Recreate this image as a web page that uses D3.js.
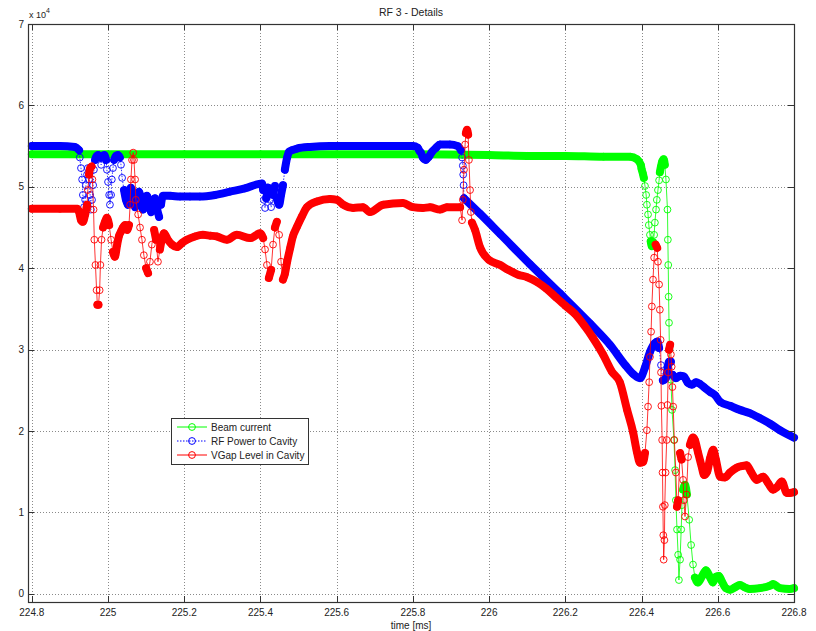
<!DOCTYPE html>
<html>
<head>
<meta charset="utf-8">
<script src="https://cdn.jsdelivr.net/npm/d3@7"></script>
<style>
  body { margin: 0; background: #fff; }
  svg text { font-family: "Liberation Sans", Arial, sans-serif; fill: #222; }
</style>
</head>
<body>
<svg id="chart" width="816" height="631"></svg>
<script>
// tick values
const xTicks = [224.8, 225, 225.2, 225.4, 225.6, 225.8, 226, 226.2, 226.4, 226.6, 226.8];
const yTicks = [0, 10000, 20000, 30000, 40000, 50000, 60000, 70000];

const seriesNames = ["Beam current", "RF Power to Cavity", "VGap Level in Cavity"];

// [time ms, value]
const beamCurrent = [
  [224.800, 54000], [224.900, 54000], [225.000, 54000], [225.200, 54000], [225.400, 54000],
  [225.600, 54000], [225.800, 54000], [226.000, 53900], [226.100, 53800], [226.200, 53800],
  [226.300, 53700], [226.370, 53700], [226.388, 53400], [226.398, 52700], [226.400, 52200],
  [226.403, 51700], [226.406, 51100], [226.409, 50100], [226.412, 49000], [226.414, 47800],
  [226.417, 46600], [226.419, 45300], [226.422, 44100], [226.424, 43300], [226.427, 42700],
  [226.430, 43200], [226.433, 44100], [226.435, 45600], [226.438, 47200], [226.440, 48400],
  [226.443, 49600], [226.446, 50800], [226.448, 51800], [226.451, 52500], [226.454, 53100],
  [226.458, 53400], [226.461, 52700], [226.464, 50900], [226.468, 47200], [226.469, 43500],
  [226.470, 40400], [226.471, 36500], [226.472, 33300], [226.473, 30000], [226.477, 26300],
  [226.480, 22600], [226.485, 18900], [226.488, 15200], [226.490, 11500], [226.493, 7900],
  [226.496, 4800], [226.498, 1700], [226.501, 4200], [226.504, 7900], [226.506, 10900],
  [226.509, 12800], [226.514, 13400], [226.519, 12200], [226.525, 9100], [226.530, 6000],
  [226.535, 3600], [226.540, 2000], [226.548, 1400], [226.559, 2200], [226.569, 2900],
  [226.580, 2000], [226.587, 1400], [226.595, 2100], [226.603, 2200], [226.611, 1500],
  [226.621, 700], [226.632, 500], [226.645, 800], [226.658, 1100], [226.671, 800],
  [226.684, 600], [226.710, 700], [226.737, 1000], [226.745, 1200], [226.763, 700],
  [226.789, 600], [226.800, 700]
];

const rfPower = [
  [224.800, 55000], [224.874, 55000], [224.913, 54900], [224.924, 54500], [224.926, 53600],
  [224.929, 52300], [224.932, 50900], [224.934, 49000], [224.937, 47500], [224.940, 48400],
  [224.942, 50200], [224.945, 51500], [224.947, 52300], [224.950, 50900], [224.953, 49000],
  [224.955, 47200], [224.958, 48400], [224.961, 50200], [224.963, 52100], [224.966, 53300],
  [224.969, 53700], [224.974, 53900], [224.979, 53600], [224.982, 52700], [224.984, 53700],
  [224.990, 53900], [224.995, 53300], [224.997, 52100], [225.000, 50600], [225.003, 49000],
  [225.005, 47800], [225.008, 49000], [225.010, 50900], [225.013, 52300], [225.016, 53300],
  [225.021, 53800], [225.026, 53900], [225.031, 53600], [225.034, 52700], [225.037, 51100],
  [225.042, 49600], [225.047, 48400], [225.052, 47800], [225.055, 49000], [225.060, 49900],
  [225.066, 48400], [225.071, 47500], [225.076, 49000], [225.081, 49400], [225.087, 48400],
  [225.092, 47200], [225.097, 48000], [225.102, 48900], [225.108, 47800], [225.113, 46900],
  [225.118, 48400], [225.123, 48600], [225.129, 47200], [225.134, 46300], [225.139, 47800],
  [225.144, 48900], [225.163, 48900], [225.189, 48800], [225.215, 48800], [225.241, 48800],
  [225.281, 49000], [225.320, 49400], [225.359, 49800], [225.404, 50400], [225.407, 49600],
  [225.409, 48400], [225.412, 47400], [225.415, 48600], [225.420, 49900], [225.425, 48400],
  [225.428, 47500], [225.433, 49000], [225.438, 50100], [225.443, 48600], [225.449, 47800],
  [225.454, 49000], [225.459, 50200], [225.464, 52100], [225.470, 53600], [225.475, 54300],
  [225.483, 54500], [225.496, 54700], [225.530, 54900], [225.582, 55000], [225.661, 55000],
  [225.766, 55000], [225.800, 55000], [225.813, 54800], [225.817, 54400], [225.821, 54200],
  [225.826, 53600], [225.830, 53400], [225.834, 53300], [225.838, 53500], [225.842, 53700],
  [225.850, 54300], [225.861, 54800], [225.871, 55200], [225.897, 55200], [225.918, 55000],
  [225.926, 54500], [225.929, 53600], [225.931, 52600], [225.932, 51500], [225.933, 50200],
  [225.934, 48600], [225.976, 46700], [226.029, 44200], [226.107, 40500], [226.186, 36900],
  [226.265, 33200], [226.317, 30600], [226.359, 28000], [226.378, 27000], [226.396, 26500],
  [226.409, 27800], [226.422, 29700], [226.435, 30800], [226.441, 31000], [226.446, 30200],
  [226.451, 28100], [226.456, 26200], [226.464, 26500], [226.472, 28500], [226.477, 28500],
  [226.482, 26900], [226.490, 26500], [226.501, 26800], [226.511, 26700], [226.522, 25900],
  [226.532, 25700], [226.543, 26000], [226.553, 25800], [226.566, 25300], [226.580, 24800],
  [226.593, 24400], [226.606, 23600], [226.632, 23100], [226.658, 22600], [226.684, 22200],
  [226.710, 21600], [226.737, 20900], [226.763, 20100], [226.800, 19200]
];

const vgapLevel = [
  [224.800, 47300], [224.874, 47300], [224.919, 47300], [224.924, 46900], [224.929, 45900],
  [224.934, 45700], [224.940, 46600], [224.945, 47800], [224.947, 49600], [224.950, 51500],
  [224.953, 52300], [224.957, 52500], [224.959, 50900], [224.962, 47200], [224.964, 43500],
  [224.967, 40400], [224.970, 37300], [224.972, 35500], [224.975, 35500], [224.978, 37300],
  [224.980, 40400], [224.983, 43500], [224.987, 45000], [224.992, 45700], [224.997, 46200],
  [225.003, 45300], [225.008, 43500], [225.013, 42000], [225.018, 41400], [225.024, 42900],
  [225.029, 44000], [225.034, 44500], [225.039, 45000], [225.045, 45300], [225.050, 44700],
  [225.055, 45300], [225.058, 47800], [225.060, 50900], [225.063, 53300], [225.066, 54200],
  [225.068, 53300], [225.071, 50900], [225.073, 48400], [225.079, 46600], [225.084, 45000],
  [225.089, 43500], [225.094, 41600], [225.100, 40000], [225.105, 39400], [225.110, 40800],
  [225.115, 42900], [225.121, 44700], [225.126, 43500], [225.131, 40800], [225.136, 42300],
  [225.142, 43700], [225.147, 44300], [225.157, 43500], [225.168, 42900], [225.181, 42600],
  [225.194, 43100], [225.207, 43500], [225.228, 43900], [225.249, 44100], [225.268, 44000],
  [225.286, 43900], [225.312, 43500], [225.338, 44100], [225.373, 43700], [225.399, 44300],
  [225.407, 43700], [225.412, 42300], [225.417, 40400], [225.422, 38800], [225.428, 39800],
  [225.433, 42900], [225.438, 45000], [225.443, 45700], [225.449, 44100], [225.454, 40800],
  [225.459, 38600], [225.464, 39300], [225.470, 40800], [225.478, 42500], [225.485, 43900],
  [225.496, 45100], [225.509, 46400], [225.522, 47500], [225.548, 48200], [225.582, 48500],
  [225.601, 48400], [225.617, 47800], [225.643, 47400], [225.669, 47500], [225.687, 46900],
  [225.722, 47800], [225.774, 48000], [225.800, 47500], [225.826, 47400], [225.845, 47500],
  [225.871, 47200], [225.889, 47500], [225.924, 47500], [225.929, 45900], [225.931, 48400],
  [225.934, 52100], [225.937, 55200], [225.939, 56600], [225.942, 57000], [225.945, 56400],
  [225.947, 53300], [225.950, 49600], [225.952, 46900], [225.955, 45600], [225.963, 44700],
  [225.976, 42600], [226.000, 41000], [226.029, 40400], [226.050, 39800], [226.076, 39200],
  [226.100, 38900], [226.126, 38300], [226.150, 37500], [226.176, 36400], [226.200, 35400],
  [226.225, 34400], [226.249, 33000], [226.273, 31400], [226.299, 29400], [226.322, 27300],
  [226.343, 26000], [226.362, 22600], [226.378, 19800], [226.388, 17400], [226.396, 16100],
  [226.404, 16200], [226.409, 17300], [226.414, 20100], [226.417, 23000], [226.420, 26000],
  [226.422, 29100], [226.425, 32200], [226.427, 35300], [226.430, 38600], [226.433, 41300],
  [226.437, 42900], [226.441, 42500], [226.443, 40800], [226.446, 38000], [226.448, 34900],
  [226.450, 31200], [226.451, 27200], [226.452, 23100], [226.454, 18900], [226.455, 14900],
  [226.456, 10700], [226.457, 7200], [226.458, 4200], [226.460, 6600], [226.461, 10900],
  [226.463, 14900], [226.466, 18900], [226.468, 23200], [226.470, 27200], [226.472, 30000],
  [226.475, 30600], [226.477, 29400], [226.479, 27900], [226.481, 25400], [226.483, 23000],
  [226.486, 18900], [226.490, 14900], [226.493, 10700], [226.496, 11500], [226.501, 17300],
  [226.505, 16500], [226.509, 14000], [226.511, 11500], [226.514, 9500], [226.518, 12200],
  [226.522, 16800], [226.527, 18300], [226.535, 19200], [226.540, 18900], [226.548, 17400],
  [226.558, 15600], [226.564, 14600], [226.572, 15000], [226.580, 16700], [226.588, 17700],
  [226.595, 16500], [226.606, 14400], [226.619, 14300], [226.632, 14900], [226.650, 15500],
  [226.664, 15700], [226.676, 15800], [226.687, 15000], [226.702, 14000], [226.719, 14400],
  [226.732, 13600], [226.745, 12800], [226.755, 13100], [226.768, 13800], [226.781, 12400],
  [226.789, 12400], [226.800, 12500]
];

let legend = {
  "Beam current": {"colour": "#00ff00", "dash": null},
  "RF Power to Cavity": {"colour": "#0000ff", "dash": "1.5,1.5"},
  "VGap Level in Cavity": {"colour": "#ff0000", "dash": null}
};

let svg = d3.select("#chart");
let width = 816, height = 631;
let box = {"left": 28, "right": 794, "top": 24, "bottom": 602};

let x = d3.scaleLinear().domain([224.79, 226.8]).range([box.left, box.right]);
let y = d3.scaleLinear().domain([-1000, 70000]).range([box.bottom, box.top]);

svg.append("rect").attr("width", width).attr("height", height).attr("fill", "#fff");

// grid
let grid = svg.append("g").attr("class", "grid")
  .attr("stroke", "#8a8a8a").attr("stroke-width", 1).attr("stroke-dasharray", "1,2");
grid.selectAll("line.gx").data(xTicks).join("line").attr("class", "gx")
  .attr("x1", d => Math.round(x(d)) + 0.5).attr("x2", d => Math.round(x(d)) + 0.5)
  .attr("y1", box.top).attr("y2", box.bottom);
grid.selectAll("line.gy").data(yTicks).join("line").attr("class", "gy")
  .attr("y1", d => Math.round(y(d)) + 0.5).attr("y2", d => Math.round(y(d)) + 0.5)
  .attr("x1", box.left).attr("x2", box.right);

// series
let plot = svg.append("g").attr("class", "main");
let line = d3.line();
let band = d3.line().curve(d3.curveMonotoneX);

function drawSeries(g, data, name){
  let colour = legend[name].colour;
  let pts = data.map(d => [x(d[0]), y(d[1])]);

  // runs of closely packed samples merge into a solid band of markers
  let runs = [], run = null;
  for (let i = 1; i < pts.length; i++){
    let dx = Math.abs(pts[i][0] - pts[i-1][0]);
    let dy = Math.abs(pts[i][1] - pts[i-1][1]);
    if (dy <= 5 * dx + 1.5){
      if (!run){ run = [pts[i-1]]; runs.push(run); }
      run.push(pts[i]);
    } else {
      run = null;
    }
  }

  g.append("g").selectAll("path").data(runs).join("path")
    .attr("d", band)
    .attr("fill", "none")
    .attr("stroke", colour)
    .attr("stroke-width", 8)
    .attr("stroke-linecap", "round")
    .attr("stroke-linejoin", "round");

  g.append("path").datum(pts)
    .attr("d", line)
    .attr("fill", "none")
    .attr("stroke", colour)
    .attr("stroke-width", 0.8)
    .attr("stroke-dasharray", legend[name].dash);

  g.append("g").selectAll("circle").data(pts).join("circle")
    .attr("cx", d => d[0]).attr("cy", d => d[1]).attr("r", 3.4)
    .attr("fill", "none").attr("stroke", colour).attr("stroke-width", 0.9);
}

drawSeries(plot.append("g"), beamCurrent, seriesNames[0]);
drawSeries(plot.append("g"), rfPower, seriesNames[1]);
drawSeries(plot.append("g"), vgapLevel, seriesNames[2]);

// box and ticks
let axes = svg.append("g").attr("class", "axes").attr("stroke", "#333").attr("fill", "none");
axes.append("rect")
  .attr("x", box.left + 0.5).attr("y", box.top + 0.5)
  .attr("width", box.right - box.left).attr("height", box.bottom - box.top)
  .attr("stroke-width", 1.2);
xTicks.forEach(function(t){
  let px = Math.round(x(t)) + 0.5;
  axes.append("line").attr("x1", px).attr("x2", px).attr("y1", box.bottom).attr("y2", box.bottom - 6);
  axes.append("line").attr("x1", px).attr("x2", px).attr("y1", box.top).attr("y2", box.top + 6);
});
yTicks.forEach(function(v){
  let py = Math.round(y(v)) + 0.5;
  axes.append("line").attr("y1", py).attr("y2", py).attr("x1", box.left).attr("x2", box.left + 6);
  axes.append("line").attr("y1", py).attr("y2", py).attr("x1", box.right).attr("x2", box.right - 6);
});

// tick labels
svg.append("g").selectAll("text").data(xTicks).join("text")
  .attr("x", d => x(d)).attr("y", 616)
  .attr("text-anchor", "middle").attr("font-size", 10)
  .text(d => d3.format("")(+d.toFixed(1)));
svg.append("g").selectAll("text").data(yTicks).join("text")
  .attr("x", 24).attr("y", d => y(d) + 3.5)
  .attr("text-anchor", "end").attr("font-size", 10)
  .text(d => d / 1e4);

let mult = svg.append("text").attr("x", 29).attr("y", 18).attr("font-size", 9);
mult.append("tspan").text("x 10");
mult.append("tspan").attr("dy", -5).attr("font-size", 7).text("4");

svg.append("text").attr("x", 411).attr("y", 15.5)
  .attr("text-anchor", "middle").attr("font-size", 10.5).text("RF 3 - Details");
svg.append("text").attr("x", 411).attr("y", 629)
  .attr("text-anchor", "middle").attr("font-size", 10).text("time [ms]");

// legend
let lg = svg.append("g").attr("class", "legend").attr("transform", "translate(171,418)");
lg.append("rect").attr("x", 0.5).attr("y", 0.5).attr("width", 137).attr("height", 46)
  .attr("fill", "#fff").attr("stroke", "#333").attr("stroke-width", 1);
seriesNames.forEach(function(name, i){
  let row = lg.append("g").attr("transform", "translate(0," + (9 + i * 14) + ")");
  row.append("line").attr("x1", 6).attr("x2", 36).attr("y1", 0).attr("y2", 0)
    .attr("stroke", legend[name].colour).attr("stroke-width", 1)
    .attr("stroke-dasharray", legend[name].dash);
  row.append("circle").attr("cx", 21).attr("cy", 0).attr("r", 3.4)
    .attr("fill", "none").attr("stroke", legend[name].colour).attr("stroke-width", 1);
  row.append("text").attr("x", 40).attr("y", 3.5).attr("font-size", 10).text(name);
});
</script>
</body>
</html>
